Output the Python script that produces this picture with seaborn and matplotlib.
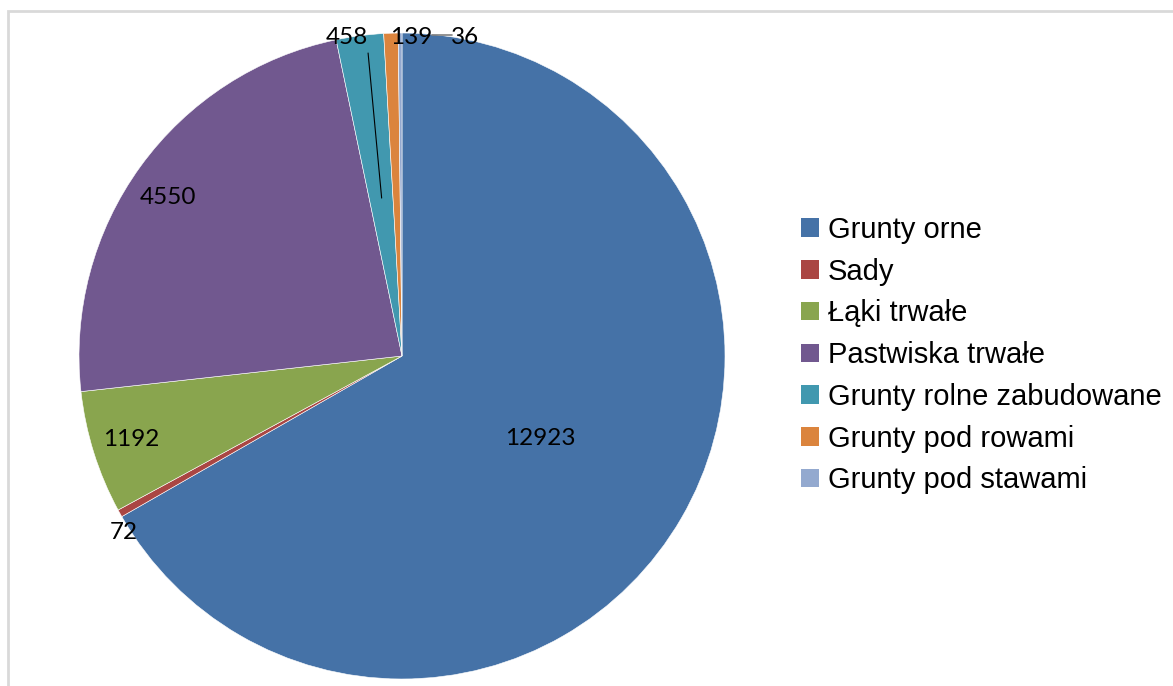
import numpy as np
import seaborn as sns
import matplotlib.pyplot as plt
from matplotlib.patches import Patch, Rectangle

kategorie = ["Grunty orne", "Sady", "Łąki trwałe", "Pastwiska trwałe",
             "Grunty rolne zabudowane", "Grunty pod rowami", "Grunty pod stawami"]
wartosci = [12923, 72, 1192, 4550, 458, 139, 36]
kolory = ["#4572A7", "#AA4643", "#89A54E", "#71588F", "#4198AF", "#DB843D", "#93A9CF"]

# pozycje etykiet (wspolrzedne osi kola, promien = 1)
etykiety_xy = [(0.427, -0.254), (-0.861, -0.545), (-0.839, -0.260), (-0.724, 0.492),
               (-0.170, 0.985), (0.028, 0.985), (0.195, 0.985)]

sns.set_theme(style="white")
plt.rcParams['font.family'] = ['Liberation Sans', 'DejaVu Sans']

fig = plt.figure(figsize=(11.73, 6.86), dpi=100)
fig.patches.append(Rectangle((8 / 1173, -0.1), 1.2, (686 - 11) / 686 + 0.1,
                             transform=fig.transFigure, fill=False,
                             edgecolor="#d9d9d9", linewidth=2))

r = 323
ax = fig.add_axes([(402 - r) / 1173, (330 - r) / 686, 2 * r / 1173, 2 * r / 686])
wedges, _ = ax.pie(wartosci, colors=kolory, startangle=90, counterclock=False,
                   radius=1, wedgeprops=dict(edgecolor="white", linewidth=0.4))
ax.set_xlim(-1, 1)
ax.set_ylim(-1, 1)
ax.set_aspect("equal")
ax.axis("off")

for w, (x, y) in zip(wartosci, etykiety_xy):
    ax.text(x, y, str(w), ha="center", va="center", fontsize=17.5,
            family=["Lato", "DejaVu Sans"], color="black")

# linie odniesienia
ax.plot([-0.105, -0.063], [0.938, 0.489], color="black", linewidth=0.8)
ax.plot([0.093, 0.155], [0.994, 0.994], color="#808080", linewidth=1.2, clip_on=False)

uchwyty = [Patch(facecolor=c, edgecolor="none") for c in kolory]
fig.legend(uchwyty, kategorie, loc="upper left",
           bbox_to_anchor=(801 / 1173, 1 - 216 / 686), frameon=False,
           fontsize=21, handlelength=0.6, handleheight=0.6, handletextpad=0.31,
           labelspacing=0.47, borderpad=0, borderaxespad=0, labelcolor="black")

fig.savefig("out.png", dpi=100)
